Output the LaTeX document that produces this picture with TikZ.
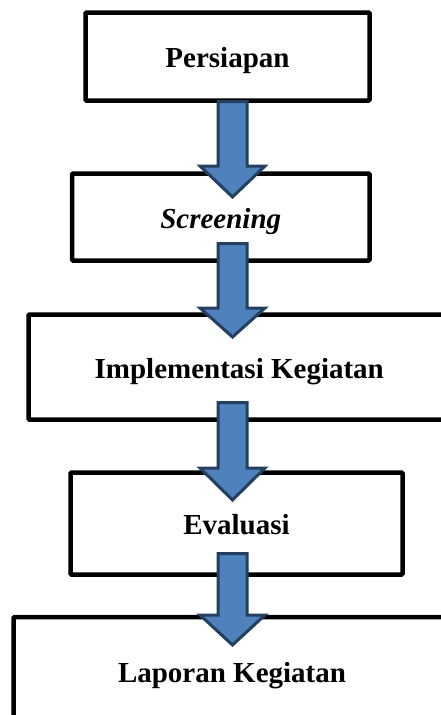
\documentclass[tikz,border=0pt]{standalone}
\usepackage{fontspec}
\setmainfont{Liberation Serif}
\definecolor{arrowfill}{HTML}{4F81BD}
\definecolor{arrowline}{HTML}{243F60}
\newcommand{\blockarrowdraw}[3]{%
  \filldraw[blockarrow] (218,#1) -- (247,#1) -- (247,#2) -- (265,#2) -- (232.5,#3) -- (200,#2) -- (218,#2) -- cycle;}
\begin{document}
\begin{tikzpicture}[x=1pt,y=-1pt,
  stepbox/.style={draw=black, line width=4.5pt, rounded corners=1pt, fill=white,
    inner sep=0pt, text height=22pt, text depth=0pt, font=\fontsize{29}{33}\selectfont\bfseries},
  blockarrow/.style={fill=arrowfill, draw=arrowline, line width=3pt, line join=miter}]
\useasboundingbox (0,0) rectangle (441,715);
\node[stepbox, minimum width=284pt, minimum height=88pt] (p1) at (227.5,56.5) {Persiapan};
\node[stepbox, minimum width=297.5pt, minimum height=87pt, font=\fontsize{29}{33}\selectfont\bfseries\itshape] (p2) at (220.75,217) {Screening};
\node[stepbox, minimum width=421.5pt, minimum height=105pt] (p3) at (239.25,367) {Implementasi Kegiatan};
\node[stepbox, minimum width=332pt, minimum height=102pt] (p4) at (236.5,523.5) {Evaluasi};
\node[stepbox, minimum width=437pt, minimum height=108pt] (p5) at (232,671) {Laporan Kegiatan};
\blockarrowdraw{101.5}{166}{197}
\blockarrowdraw{243.5}{308}{337}
\blockarrowdraw{402.5}{468}{500}
\blockarrowdraw{553.5}{615}{645}
\end{tikzpicture}
\end{document}
